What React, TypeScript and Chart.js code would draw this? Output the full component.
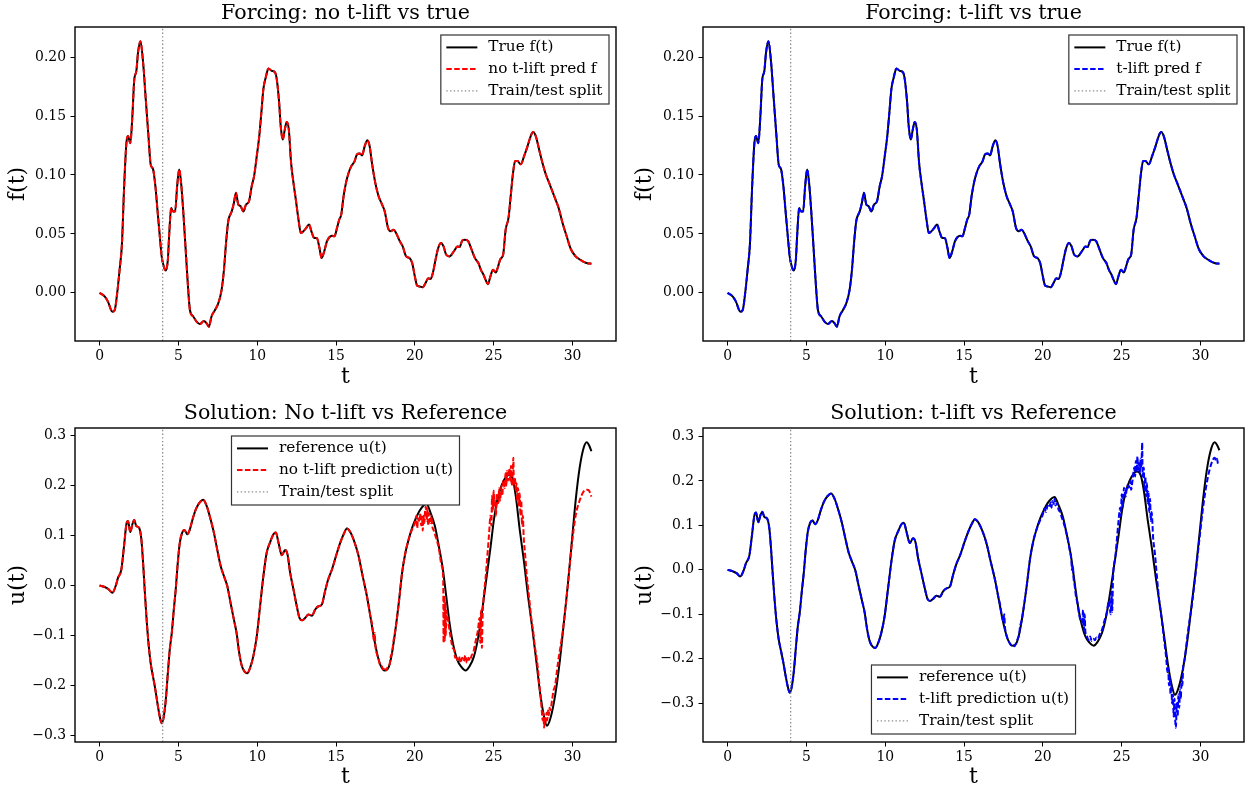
import React, { useEffect, useRef } from "react";
import { Chart, registerables } from "chart.js";

Chart.register(...registerables);

const FONT = '"DejaVu Serif", serif';

// ---------- Forcing f(t) ----------
const fTimes = [
  0, 0.32, 0.53, 0.81, 0.96, 1.1, 1.27, 1.42, 1.55, 1.7, 1.8, 1.95, 2.08, 2.2, 2.33, 2.44, 2.59, 2.76, 2.93, 3.1,
  3.24, 3.39, 3.54, 3.67, 3.82, 3.94, 4.07, 4.2, 4.33, 4.41, 4.54, 4.66, 4.79, 4.92, 5.05, 5.17, 5.3, 5.45, 5.58, 5.73,
  5.94, 6.15, 6.36, 6.62, 6.79, 6.93, 7.1, 7.32, 7.53, 7.74, 7.89, 8.02, 8.16, 8.38, 8.52, 8.65, 8.8, 8.95, 9.12, 9.29,
  9.48, 9.65, 9.8, 9.97, 10.13, 10.28, 10.39, 10.54, 10.71, 10.92, 11.13, 11.24, 11.39, 11.49, 11.62, 11.75, 11.87, 12.0, 12.15, 12.3,
  12.45, 12.62, 12.77, 12.93, 13.1, 13.28, 13.47, 13.61, 13.78, 13.95, 14.08, 14.25, 14.42, 14.59, 14.74, 14.9, 15.06, 15.2, 15.33, 15.48,
  15.63, 15.8, 15.97, 16.18, 16.33, 16.5, 16.65, 16.82, 16.99, 17.13, 17.28, 17.49, 17.7, 17.92, 18.09, 18.3, 18.47, 18.64, 18.81, 19.02,
  19.23, 19.45, 19.66, 19.83, 20.0, 20.15, 20.31, 20.5, 20.67, 20.85, 20.99, 21.14, 21.31, 21.48, 21.65, 21.82, 21.99, 22.2, 22.37, 22.54,
  22.69, 22.84, 23.01, 23.18, 23.39, 23.6, 23.81, 24.03, 24.19, 24.36, 24.49, 24.64, 24.79, 24.96, 25.13, 25.28, 25.43, 25.6, 25.76, 25.94,
  26.08, 26.23, 26.36, 26.51, 26.72, 26.93, 27.15, 27.35, 27.5, 27.67, 27.88, 28.1, 28.31, 28.56, 28.84, 29.12, 29.37, 29.63, 29.9, 30.2,
  30.5, 30.8, 31.0, 31.2,
];
const fTrue = [
  0, -0.003, -0.0074, -0.0159, -0.0145, -0.002, 0.0196, 0.042, 0.0877, 0.127, 0.133, 0.127, 0.15, 0.181, 0.188, 0.204, 0.2134, 0.1955, 0.164, 0.133,
  0.109, 0.105, 0.0905, 0.0706, 0.048, 0.031, 0.0224, 0.019, 0.028, 0.048, 0.072, 0.069, 0.069, 0.0905, 0.1047, 0.0933, 0.0706, 0.039, 0.011, -0.0145,
  -0.02, -0.0244, -0.0264, -0.0238, -0.0258, -0.0287, -0.02, -0.0145, -0.0088, 0.0026, 0.0196, 0.042, 0.0607, 0.069, 0.0763, 0.0849, 0.0749, 0.0735, 0.069, 0.0749,
  0.0777, 0.0905, 0.099, 0.116, 0.133, 0.1557, 0.1728, 0.1827, 0.1904, 0.1883, 0.187, 0.181, 0.1614, 0.1415, 0.13, 0.1387, 0.145, 0.139, 0.11, 0.0933,
  0.079, 0.062, 0.0508, 0.0522, 0.055, 0.0579, 0.0508, 0.0466, 0.0466, 0.038, 0.0295, 0.0352, 0.0437, 0.0474, 0.0485, 0.048, 0.055, 0.062, 0.0664, 0.082,
  0.0933, 0.1019, 0.1075, 0.1118, 0.1174, 0.1183, 0.1166, 0.1245, 0.1294, 0.1245, 0.11, 0.0933, 0.082, 0.0749, 0.069, 0.055, 0.0522, 0.0536, 0.0508, 0.0445,
  0.0394, 0.0309, 0.0295, 0.0253, 0.0139, 0.006, 0.0054, 0.0048, 0.0082, 0.0125, 0.0117, 0.0168, 0.028, 0.038, 0.0423, 0.0394, 0.0323, 0.0309, 0.0332, 0.0366,
  0.0394, 0.0389, 0.0445, 0.0451, 0.0437, 0.0366, 0.0295, 0.0253, 0.0196, 0.0153, 0.011, 0.0074, 0.0139, 0.0196, 0.0173, 0.0224, 0.0287, 0.0323, 0.0536, 0.0636,
  0.082, 0.1019, 0.1118, 0.1118, 0.109, 0.116, 0.1245, 0.133, 0.1364, 0.133, 0.1217, 0.11, 0.1004, 0.0919, 0.082, 0.072, 0.0593, 0.048, 0.037, 0.031,
  0.028, 0.0258, 0.025, 0.0248,
];
// predictions of f overlay the true forcing (read as identical)
const fNoLiftPred = fTrue.slice();
const fTLiftPred = fTrue.slice();

// ---------- Solution u(t) ----------
const uTimes = [
  0, 0.32, 0.59, 0.81, 1.02, 1.17, 1.38, 1.55, 1.7, 1.8, 1.95, 2.08, 2.2, 2.33, 2.5, 2.65, 2.76, 2.86, 2.97, 3.1,
  3.24, 3.39, 3.54, 3.67, 3.82, 3.94, 4.07, 4.2, 4.33, 4.45, 4.58, 4.71, 4.83, 4.96, 5.09, 5.24, 5.39, 5.56, 5.73, 5.9,
  6.11, 6.32, 6.57, 6.79, 7.04, 7.25, 7.46, 7.68, 7.89, 8.1, 8.31, 8.52, 8.69, 8.86, 9.03, 9.2, 9.37, 9.54, 9.75, 9.97,
  10.18, 10.39, 10.6, 10.81, 11.03, 11.18, 11.35, 11.56, 11.77, 11.92, 12.09, 12.3, 12.51, 12.68, 12.85, 13.04, 13.25, 13.47, 13.68, 13.89,
  14.1, 14.3, 14.5, 14.74, 15.06, 15.27, 15.48, 15.69, 15.9, 16.18, 16.43, 16.69, 16.96, 17.18, 17.39, 17.6, 17.81, 18.09, 18.34, 18.55,
  18.77, 18.98, 19.19, 19.4, 19.61, 19.83, 20.04, 20.29, 20.57, 20.74, 20.99, 21.27, 21.52, 21.78, 21.99, 22.2, 22.41, 22.69, 22.96, 23.22,
  23.47, 23.75, 24.03, 24.28, 24.53, 24.81, 25.02, 25.24, 25.49, 25.76, 25.97, 26.19, 26.4, 26.65, 26.93, 27.18, 27.46, 27.72, 27.95, 28.2,
  28.38, 28.6, 28.9, 29.2, 29.45, 29.7, 29.95, 30.2, 30.45, 30.7, 30.9, 31.05, 31.2,
];
const uReference = [
  0, -0.003, -0.008, -0.0147, -0.001, 0.0155, 0.032, 0.079, 0.1227, 0.129, 0.107, 0.1227, 0.131, 0.119, 0.116, 0.0926, 0.0456, -0.008, -0.062, -0.115,
  -0.1556, -0.1825, -0.209, -0.236, -0.263, -0.276, -0.263, -0.229, -0.1757, -0.1288, -0.095, -0.048, -0.008, 0.0456, 0.0859, 0.106, 0.111, 0.1026, 0.1127, 0.1328,
  0.153, 0.165, 0.1717, 0.1596, 0.1328, 0.106, 0.0724, 0.0389, 0.0187, -0.001, -0.035, -0.0684, -0.095, -0.1355, -0.162, -0.1724, -0.1757, -0.1656, -0.142, -0.102,
  -0.0416, 0.0187, 0.0657, 0.0859, 0.1026, 0.106, 0.0859, 0.0604, 0.071, 0.0624, 0.0255, -0.008, -0.0416, -0.065, -0.0698, -0.065, -0.0583, -0.0604, -0.048, -0.0416,
  -0.038, -0.012, 0.012, 0.032, 0.0657, 0.0859, 0.1026, 0.114, 0.107, 0.0859, 0.059, 0.0187, -0.0215, -0.062, -0.102, -0.1355, -0.159, -0.1704, -0.1637, -0.1355,
  -0.0885, -0.035, 0.0255, 0.0657, 0.0926, 0.116, 0.1328, 0.1495, 0.161, 0.164, 0.146, 0.1193, 0.079, 0.032, -0.0215, -0.075, -0.115, -0.149, -0.1637, -0.1704,
  -0.162, -0.142, -0.102, -0.048, 0.012, 0.079, 0.1328, 0.173, 0.1998, 0.2167, 0.2213, 0.215, 0.1797, 0.1127, 0.0456, -0.0215, -0.0885, -0.1556, -0.216, -0.263,
  -0.281, -0.266, -0.22, -0.15, -0.075, 0.0, 0.085, 0.17, 0.235, 0.275, 0.287, 0.281, 0.269,
];
// predictions follow the reference up to t = 17.18, then these read tails
const predictionHeadEnd = 17.18;
const noLiftTailTimes = [
  17.3, 17.4, 17.45, 17.5, 17.6, 17.7, 17.8, 17.9, 18.0, 18.1, 18.2, 18.3, 18.4, 18.45, 18.55, 18.65, 18.77, 18.98, 19.19, 19.4,
  19.61, 19.83, 20.0, 20.1, 20.15, 20.2, 20.3, 20.35, 20.4, 20.45, 20.5, 20.55, 20.6, 20.65, 20.7, 20.75, 20.8, 20.85, 20.9, 20.95,
  21.0, 21.05, 21.1, 21.2, 21.3, 21.52, 21.7, 21.8, 21.82, 21.85, 21.9, 21.93, 21.96, 22.0, 22.1, 22.2, 22.3, 22.4, 22.5, 22.55,
  22.6, 22.7, 22.8, 22.9, 23.0, 23.1, 23.2, 23.3, 23.4, 23.5, 23.6, 23.7, 23.8, 23.9, 24.0, 24.1, 24.15, 24.2, 24.25, 24.3,
  24.35, 24.5, 24.6, 24.7, 24.8, 24.85, 24.9, 24.95, 25.0, 25.05, 25.1, 25.15, 25.2, 25.3, 25.35, 25.4, 25.5, 25.55, 25.6, 25.7,
  25.75, 25.8, 25.85, 25.9, 25.95, 26.0, 26.05, 26.1, 26.15, 26.2, 26.25, 26.28, 26.35, 26.4, 26.45, 26.5, 26.55, 26.6, 26.65, 26.7,
  26.75, 26.8, 26.85, 26.9, 27.0, 27.1, 27.2, 27.3, 27.4, 27.5, 27.6, 27.7, 27.8, 27.9, 28.0, 28.05, 28.1, 28.15, 28.2, 28.25,
  28.3, 28.35, 28.4, 28.45, 28.5, 28.55, 28.6, 28.7, 28.8, 28.9, 29.0, 29.1, 29.2, 29.3, 29.45, 29.7, 29.95, 30.2, 30.45, 30.7,
  30.9, 31.05, 31.2,
];
const noLiftTailU = [
  -0.08, -0.11, -0.095, -0.122, -0.138, -0.148, -0.16, -0.162, -0.168, -0.164, -0.17, -0.16, -0.158, -0.145, -0.135, -0.11, -0.088, -0.035, 0.0255, 0.0657,
  0.0926, 0.113, 0.125, 0.14, 0.115, 0.135, 0.128, 0.145, 0.12, 0.138, 0.11, 0.14, 0.125, 0.15, 0.158, 0.13, 0.155, 0.12, 0.145, 0.135,
  0.125, 0.14, 0.12, 0.11, 0.1, 0.075, 0.04, 0.01, -0.115, -0.02, -0.11, -0.03, -0.1, -0.05, -0.07, -0.09, -0.11, -0.125, -0.13, -0.145,
  -0.14, -0.15, -0.142, -0.155, -0.145, -0.152, -0.14, -0.155, -0.145, -0.15, -0.14, -0.135, -0.12, -0.105, -0.09, -0.065, -0.115, -0.05, -0.125, -0.06,
  -0.03, 0.02, 0.06, 0.1, 0.14, 0.12, 0.18, 0.15, 0.19, 0.16, 0.17, 0.14, 0.185, 0.165, 0.195, 0.17, 0.2, 0.18, 0.21, 0.195,
  0.225, 0.2, 0.23, 0.21, 0.22, 0.235, 0.21, 0.24, 0.2, 0.22, 0.256, 0.2, 0.215, 0.19, 0.205, 0.17, 0.195, 0.16, 0.185, 0.14,
  0.17, 0.12, 0.14, 0.1, 0.06, 0.02, -0.01, -0.04, -0.07, -0.09, -0.12, -0.14, -0.165, -0.2, -0.23, -0.25, -0.27, -0.255, -0.285, -0.265,
  -0.275, -0.255, -0.27, -0.25, -0.26, -0.245, -0.25, -0.23, -0.21, -0.2, -0.175, -0.15, -0.13, -0.11, -0.075, 0.0, 0.08, 0.14, 0.17, 0.188,
  0.192, 0.19, 0.178,
];
const tLiftTailTimes = [
  17.3, 17.4, 17.5, 17.55, 17.6, 17.7, 17.8, 17.9, 18.0, 18.1, 18.2, 18.3, 18.4, 18.5, 18.55, 18.65, 18.77, 18.98, 19.19, 19.4,
  19.61, 19.83, 20.0, 20.1, 20.2, 20.3, 20.4, 20.5, 20.55, 20.6, 20.7, 20.75, 20.8, 20.9, 21.0, 21.1, 21.2, 21.3, 21.52, 21.7,
  21.8, 21.85, 21.9, 21.95, 22.0, 22.1, 22.2, 22.3, 22.4, 22.5, 22.55, 22.6, 22.65, 22.7, 22.8, 22.9, 23.0, 23.1, 23.2, 23.3,
  23.4, 23.5, 23.6, 23.75, 23.9, 24.03, 24.2, 24.3, 24.35, 24.4, 24.45, 24.6, 24.7, 24.8, 24.9, 24.95, 25.0, 25.05, 25.1, 25.15,
  25.25, 25.35, 25.45, 25.55, 25.6, 25.7, 25.8, 25.85, 25.9, 25.95, 26.0, 26.05, 26.1, 26.15, 26.2, 26.25, 26.3, 26.33, 26.4, 26.45,
  26.5, 26.55, 26.6, 26.65, 26.7, 26.75, 26.8, 26.85, 26.9, 27.0, 27.1, 27.2, 27.3, 27.4, 27.5, 27.6, 27.7, 27.8, 27.85, 27.9,
  27.95, 28.0, 28.05, 28.1, 28.15, 28.2, 28.25, 28.3, 28.35, 28.4, 28.44, 28.5, 28.55, 28.6, 28.65, 28.7, 28.75, 28.8, 28.85, 28.9,
  29.0, 29.1, 29.2, 29.3, 29.45, 29.7, 29.95, 30.2, 30.45, 30.7, 30.9, 31.0, 31.05, 31.1, 31.2,
];
const tLiftTailU = [
  -0.08, -0.105, -0.115, -0.1, -0.13, -0.148, -0.158, -0.165, -0.17, -0.168, -0.172, -0.165, -0.155, -0.145, -0.128, -0.115, -0.088, -0.035, 0.0255, 0.0657,
  0.092, 0.112, 0.125, 0.138, 0.13, 0.145, 0.14, 0.152, 0.14, 0.155, 0.148, 0.16, 0.145, 0.15, 0.135, 0.13, 0.118, 0.108, 0.079, 0.045,
  0.025, 0.0, 0.01, -0.02, -0.03, -0.06, -0.075, -0.1, -0.115, -0.118, -0.09, -0.135, -0.1, -0.14, -0.15, -0.158, -0.15, -0.16, -0.155, -0.158,
  -0.152, -0.155, -0.145, -0.135, -0.115, -0.1, -0.07, -0.1, -0.05, -0.095, -0.02, 0.03, 0.07, 0.11, 0.14, 0.12, 0.17, 0.14, 0.16, 0.185,
  0.165, 0.19, 0.185, 0.2, 0.18, 0.205, 0.23, 0.21, 0.245, 0.22, 0.255, 0.225, 0.24, 0.215, 0.25, 0.23, 0.286, 0.21, 0.23, 0.18,
  0.21, 0.165, 0.195, 0.15, 0.175, 0.13, 0.16, 0.11, 0.13, 0.07, 0.04, 0.0, -0.04, -0.075, -0.1, -0.13, -0.16, -0.19, -0.21, -0.23,
  -0.22, -0.26, -0.24, -0.28, -0.26, -0.3, -0.28, -0.33, -0.29, -0.34, -0.355, -0.3, -0.33, -0.28, -0.31, -0.27, -0.29, -0.245, -0.26, -0.22,
  -0.2, -0.17, -0.14, -0.115, -0.08, -0.005, 0.075, 0.15, 0.205, 0.24, 0.252, 0.245, 0.25, 0.24, 0.235,
];

// ---------- axes ----------
const tTicks = [0, 5, 10, 15, 20, 25, 30];
const fTicks = [0, 0.05, 0.1, 0.15, 0.2];
const uTicks = [-0.3, -0.2, -0.1, 0, 0.1, 0.2, 0.3];
const splitT = 4;

type XY = { x: number; y: number };
const pts = (ts: number[], vs: number[]): XY[] => ts.map((t, i) => ({ x: t, y: vs[i] }));
const withHead = (tailT: number[], tailV: number[]): XY[] => [
  ...pts(uTimes, uReference).filter((p) => p.x <= predictionHeadEnd),
  ...pts(tailT, tailV),
];
const padRange = (vals: number[]): [number, number] => {
  let mn = Infinity, mx = -Infinity;
  for (const v of vals) { if (v < mn) mn = v; if (v > mx) mx = v; }
  const m = (mx - mn) * 0.05;
  return [mn - m, mx + m];
};

// ---------- plugins ----------
const framePlugin = {
  id: "frame",
  afterDatasetsDraw(chart: any) {
    const { ctx, chartArea: a } = chart;
    ctx.save();
    ctx.strokeStyle = "#000";
    ctx.lineWidth = 1.4;
    ctx.strokeRect(a.left, a.top, a.right - a.left, a.bottom - a.top);
    ctx.restore();
  },
};

const LEG_FS = 15.3;
const mplLegend = {
  id: "mplLegend",
  afterDraw(chart: any, _args: any, opts: any) {
    if (!opts || !opts.loc) return;
    const { ctx, chartArea: a } = chart;
    const items = chart.data.datasets;
    ctx.save();
    ctx.font = `${LEG_FS}px ${FONT}`;
    const padL = 5.5, handle = 31, gap = 11, padR = 6.5, rowH = 21.7, firstRow = 12.4, boxH = 69, inset = 7;
    let textW = 0;
    for (const d of items) textW = Math.max(textW, ctx.measureText(d.label).width);
    const w = padL + handle + gap + textW + padR;
    let x0: number, y0: number;
    if (opts.loc === "upper right") { x0 = a.right - inset - w; y0 = a.top + inset + 1; }
    else if (opts.loc === "upper center") { x0 = (a.left + a.right) / 2 - w / 2; y0 = a.top + inset + 1; }
    else { x0 = (a.left + a.right) / 2 - w / 2; y0 = a.bottom - inset - 1 - boxH; }
    ctx.fillStyle = "#fff";
    ctx.fillRect(x0, y0, w, boxH);
    ctx.strokeStyle = "#333";
    ctx.lineWidth = 1.2;
    ctx.strokeRect(x0, y0, w, boxH);
    items.forEach((d: any, i: number) => {
      const cy = y0 + firstRow + i * rowH;
      ctx.beginPath();
      ctx.setLineDash(d.borderDash || []);
      ctx.strokeStyle = d.borderColor;
      ctx.lineWidth = d.borderWidth;
      ctx.moveTo(x0 + padL, cy);
      ctx.lineTo(x0 + padL + handle, cy);
      ctx.stroke();
      ctx.setLineDash([]);
      ctx.fillStyle = "#000";
      ctx.textBaseline = "middle";
      ctx.textAlign = "left";
      ctx.fillText(d.label, x0 + padL + handle + gap, cy);
    });
    ctx.restore();
  },
};

// ---------- panels ----------
type Series = { label: string; data: XY[]; color: string; dash: number[] };
type Spec = {
  left: number; top: number; width: number; height: number;
  area: { l: number; t: number; r: number; b: number };
  title: string; titleC: number; xLabelC: number; yLabelC: number;
  yLabel: string; yTicks: number[]; digits: number;
  solid: Series; pred: Series; legendLoc: string;
};

const TITLE_FS = 20.6;
const LABEL_FS = 22;
const TICK_FS = 13.9;

function Panel({ spec }: { spec: Spec }) {
  const ref = useRef<HTMLCanvasElement | null>(null);
  useEffect(() => {
    const s = spec;
    const allY = [...s.solid.data, ...s.pred.data].map((p) => p.y);
    const allX = [...s.solid.data, ...s.pred.data].map((p) => p.x);
    const [ymin, ymax] = padRange(allY);
    const [xmin, xmax] = padRange(allX);
    const tlh = TITLE_FS * 1.2;
    const llh = LABEL_FS * 1.2;
    const tickFont = { family: FONT, size: TICK_FS };
    const labelFont = { family: FONT, size: LABEL_FS, lineHeight: 1.2 };
    const fmt = (v: number) => v.toFixed(s.digits).replace("-", "\u2212");
    const chart = new Chart(ref.current as HTMLCanvasElement, {
      type: "line",
      data: {
        datasets: [
          {
            label: s.solid.label, data: s.solid.data, borderColor: s.solid.color, borderWidth: 2,
            borderDash: s.solid.dash, pointRadius: 0, cubicInterpolationMode: "monotone", order: 3,
          },
          {
            label: s.pred.label, data: s.pred.data, borderColor: s.pred.color, borderWidth: 2,
            borderDash: s.pred.dash, pointRadius: 0, cubicInterpolationMode: "monotone", order: 2,
          },
          {
            label: "Train/test split", data: [{ x: splitT, y: ymin }, { x: splitT, y: ymax }],
            borderColor: "#8c8c8c", borderWidth: 1.3, borderDash: [1.4, 2.3], pointRadius: 0, order: 1,
          },
        ] as any,
      },
      options: {
        responsive: false,
        animation: false,
        devicePixelRatio: 1,
        events: [],
        layout: { padding: { left: 0, top: 0, right: s.width - s.area.r, bottom: 0 } },
        plugins: {
          legend: { display: false },
          tooltip: { enabled: false },
          title: {
            display: true, text: s.title, color: "#000", fullSize: false,
            font: { family: FONT, size: TITLE_FS, weight: "normal", lineHeight: 1.2 },
            padding: { top: s.titleC - tlh / 2, bottom: s.area.t - s.titleC - tlh / 2 },
          },
          mplLegend: { loc: s.legendLoc },
        } as any,
        scales: {
          x: {
            type: "linear", min: xmin, max: xmax,
            afterBuildTicks: (ax: any) => { ax.ticks = tTicks.map((v) => ({ value: v })); },
            afterFit: (ax: any) => { ax.height = s.height - s.area.b; },
            grid: { drawOnChartArea: false, drawTicks: true, tickLength: 4.5, color: "#000", lineWidth: 1 },
            border: { display: false },
            ticks: { color: "#000", font: tickFont, padding: 3, maxRotation: 0, autoSkip: false, callback: (v: any) => String(v) },
            title: { display: true, text: "t", color: "#000", font: labelFont, padding: { top: 0, bottom: s.height - s.xLabelC - llh / 2 } },
          },
          y: {
            type: "linear", min: ymin, max: ymax,
            afterBuildTicks: (ax: any) => { ax.ticks = s.yTicks.map((v) => ({ value: v })); },
            afterFit: (ax: any) => { ax.width = s.area.l; },
            grid: { drawOnChartArea: false, drawTicks: true, tickLength: 4.5, color: "#000", lineWidth: 1 },
            border: { display: false },
            ticks: { color: "#000", font: tickFont, padding: 4.5, autoSkip: false, callback: (v: any) => fmt(Number(v)) },
            title: { display: true, text: s.yLabel, color: "#000", font: labelFont, padding: { top: s.yLabelC - llh / 2, bottom: 0 } },
          },
        } as any,
      },
      plugins: [framePlugin, mplLegend],
    });
    return () => chart.destroy();
  }, [spec]);
  return (
    <canvas
      ref={ref}
      width={spec.width}
      height={spec.height}
      style={{ position: "absolute", left: spec.left, top: spec.top, width: spec.width, height: spec.height }}
    />
  );
}

const DASH = [5.5, 2.4];

const specs: Spec[] = [
  {
    left: 0, top: 0, width: 625, height: 394, area: { l: 75, t: 27, r: 616, b: 341 },
    title: "Forcing: no t-lift vs true", titleC: 13.5, xLabelC: 377.5, yLabelC: 18.5,
    yLabel: "f(t)", yTicks: fTicks, digits: 2,
    solid: { label: "True f(t)", data: pts(fTimes, fTrue), color: "#000000", dash: [] },
    pred: { label: "no t-lift pred f", data: pts(fTimes, fNoLiftPred), color: "#ff0000", dash: DASH },
    legendLoc: "upper right",
  },
  {
    left: 625, top: 0, width: 625, height: 394, area: { l: 78, t: 27, r: 619, b: 341 },
    title: "Forcing: t-lift vs true", titleC: 13.5, xLabelC: 377.5, yLabelC: 20.5,
    yLabel: "f(t)", yTicks: fTicks, digits: 2,
    solid: { label: "True f(t)", data: pts(fTimes, fTrue), color: "#000000", dash: [] },
    pred: { label: "t-lift pred f", data: pts(fTimes, fTLiftPred), color: "#0000ff", dash: DASH },
    legendLoc: "upper right",
  },
  {
    left: 0, top: 394, width: 625, height: 395, area: { l: 75, t: 34, r: 616, b: 348 },
    title: "Solution: No t-lift vs Reference", titleC: 19.5, xLabelC: 383.5, yLabelC: 18.5,
    yLabel: "u(t)", yTicks: uTicks, digits: 1,
    solid: { label: "reference u(t)", data: pts(uTimes, uReference), color: "#000000", dash: [] },
    pred: { label: "no t-lift prediction u(t)", data: withHead(noLiftTailTimes, noLiftTailU), color: "#ff0000", dash: DASH },
    legendLoc: "upper center",
  },
  {
    left: 625, top: 394, width: 625, height: 395, area: { l: 78, t: 34, r: 619, b: 348 },
    title: "Solution: t-lift vs Reference", titleC: 19.5, xLabelC: 383.5, yLabelC: 20.5,
    yLabel: "u(t)", yTicks: uTicks, digits: 1,
    solid: { label: "reference u(t)", data: pts(uTimes, uReference), color: "#000000", dash: [] },
    pred: { label: "t-lift prediction u(t)", data: withHead(tLiftTailTimes, tLiftTailU), color: "#0000ff", dash: DASH },
    legendLoc: "lower center",
  },
];

export default function App() {
  return (
    <div style={{ position: "absolute", left: 0, top: 0, width: 1250, height: 789, background: "#ffffff", overflow: "hidden" }}>
      {specs.map((s, i) => (
        <Panel key={i} spec={s} />
      ))}
    </div>
  );
}
